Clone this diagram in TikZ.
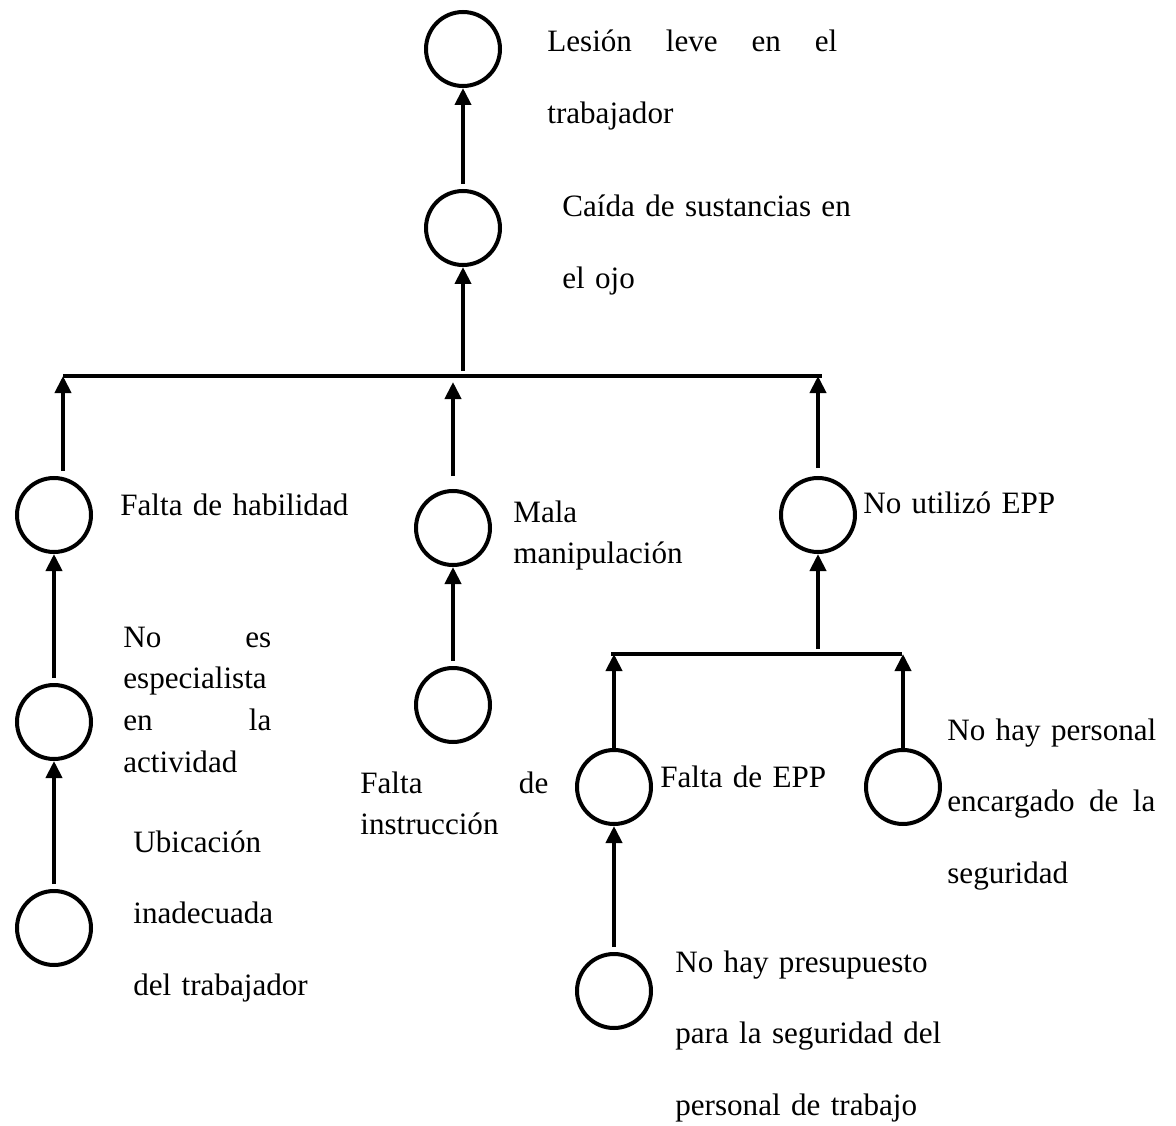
\documentclass[tikz,border=0pt]{standalone}
\usepackage{fontspec}
\setmainfont{Liberation Serif}
\usetikzlibrary{arrows.meta}
\usetikzlibrary{positioning}
\tikzstyle{evento}=[draw, circle, line width=0.8mm, minimum size=1.48cm, inner sep=0pt]
\tikzstyle{myarrow}=[-{Triangle[length=3.4mm,width=3.2mm]}, line width=0.8mm, shorten <=1mm]
\tikzstyle{barra}=[line width=0.8mm]
\tikzstyle{texto}=[anchor=base west, inner sep=0pt, align=left, text width=6cm,
font=\fontsize{17.7}{23.8}\selectfont]
\tikzstyle{textod}=[texto, font=\fontsize{17.7}{40.8}\selectfont]

\begin{document}
\begin{tikzpicture}[x=0.2mm, y=-0.2mm]

    \useasboundingbox (0,0) rectangle (1176,1126);

    % eventos
    \node[evento] (lesion) at (463,49) {};
    \node[evento] (caida) at (463,228) {};
    \node[evento] (habilidad) at (54,515) {};
    \node[evento] (especialista) at (54,722) {};
    \node[evento] (ubicacion) at (54,928) {};
    \node[evento] (manipulacion) at (453,528) {};
    \node[evento] (instruccion) at (453,705) {};
    \node[evento] (noepp) at (818,515) {};
    \node[evento] (faltaepp) at (614,787) {};
    \node[evento] (personal) at (903,787) {};
    \node[evento] (presupuesto) at (614,991) {};

    % textos
    \node[textod, text width=5.8cm] (t-lesion) at (547,52) {Lesión\hfill leve\hfill en\hfill el\\trabajador};
    \node[textod] (t-caida) at (562,217) {Caída de sustancias en\\el ojo};
    \node[texto] (t-habilidad) at (120,515) {Falta de habilidad};
    \node[texto, text width=2.96cm] (t-especialista) at (123,647) {No\hfill es\\especialista\\en\hfill la\\actividad};
    \node[textod] (t-ubicacion) at (133,852) {Ubicación\\inadecuada\\del trabajador};
    \node[texto] (t-manipulacion) at (513,522) {Mala\\manipulación};
    \node[texto, text width=3.76cm] (t-instruccion) at (360,793) {Falta\hfill de\\instrucción};
    \node[texto] (t-noepp) at (863,513) {No utilizó EPP};
    \node[texto] (t-faltaepp) at (660,787) {Falta de EPP};
    \node[textod, text width=4.16cm] (t-personal) at (947,740) {\mbox{No hay personal}\\encargado\hfill de\hfill la\\seguridad};
    \node[textod] (t-presupuesto) at (675,972) {No hay presupuesto\\para la seguridad del\\personal de trabajo};

    % barras
    \coordinate (b1) at (63,376);
    \coordinate (b2) at (822,376);
    \coordinate (s1) at (611,654);
    \coordinate (s2) at (902,654);
    \draw[barra] (b1) -- (b2);
    \draw[barra] (s1) -- (s2);

    % flechas
    \draw[myarrow] (caida) -- (lesion);
    \draw[myarrow] (caida.south |- b1) -- (caida);
    \draw[myarrow] (b1 |- habilidad.north) -- (b1);
    \draw[myarrow, shorten <=2.6mm, shorten >=1.2mm] (manipulacion.north) -- (manipulacion.north |- b1);
    \draw[myarrow, shorten <=1.6mm] (noepp.north) -- (noepp.north |- b2);
    \draw[myarrow] (especialista) -- (habilidad);
    \draw[myarrow] (ubicacion) -- (especialista);
    \draw[myarrow] (instruccion) -- (manipulacion);
    \draw[myarrow] (noepp.south |- s1) -- (noepp);
    \draw[myarrow, shorten <=0pt] (faltaepp.north) -- (faltaepp.north |- s1);
    \draw[myarrow, shorten <=0pt] (personal.north) -- (personal.north |- s2);
    \draw[myarrow] (presupuesto) -- (faltaepp);
\end{tikzpicture}
\end{document}
